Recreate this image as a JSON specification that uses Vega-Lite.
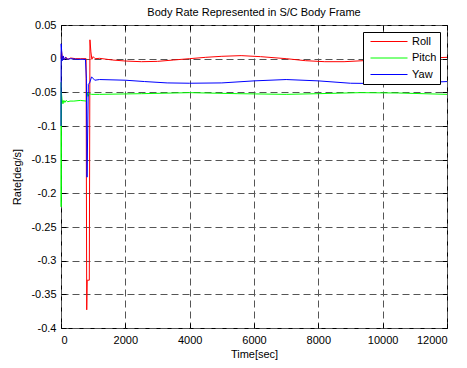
{
  "$schema": "https://vega.github.io/schema/vega-lite/v6.json",
  "width": 386,
  "height": 303,
  "autosize": {"type": "none"},
  "padding": {"left": 61, "top": 25, "right": 20, "bottom": 40},
  "background": "white",
  "title": {"text": "Body Rate Represented in S/C Body Frame", "fontSize": 11, "font": "Liberation Sans", "fontWeight": "normal", "color": "#000", "offset": 1},
  "config": {"view": {"stroke": "#000", "strokeWidth": 1}, "font": "Liberation Sans"},
  "data": {"values": [
    {"t": 0, "v": 0, "s": "Roll"}, {"t": 15, "v": 0.012, "s": "Roll"}, {"t": 40, "v": 0.001, "s": "Roll"}, {"t": 70, "v": 0.004, "s": "Roll"}, {"t": 100, "v": -0.002, "s": "Roll"}, {"t": 150, "v": 0.002, "s": "Roll"}, {"t": 220, "v": -0.001, "s": "Roll"}, {"t": 300, "v": 0.001, "s": "Roll"}, {"t": 450, "v": 0, "s": "Roll"}, {"t": 600, "v": 0, "s": "Roll"}, {"t": 780, "v": 0, "s": "Roll"}, {"t": 800, "v": -0.373, "s": "Roll"}, {"t": 815, "v": -0.329, "s": "Roll"}, {"t": 880, "v": -0.329, "s": "Roll"}, {"t": 900, "v": 0.028, "s": "Roll"}, {"t": 930, "v": 0.01, "s": "Roll"}, {"t": 960, "v": -0.001, "s": "Roll"}, {"t": 1000, "v": 0.003, "s": "Roll"}, {"t": 1060, "v": 0.0, "s": "Roll"}, {"t": 1200, "v": 0.0005, "s": "Roll"}, {"t": 1600, "v": -0.002, "s": "Roll"}, {"t": 2000, "v": -0.0035, "s": "Roll"}, {"t": 2500, "v": -0.0045, "s": "Roll"}, {"t": 3000, "v": -0.004, "s": "Roll"}, {"t": 3500, "v": -0.002, "s": "Roll"}, {"t": 4000, "v": 0.0, "s": "Roll"}, {"t": 4500, "v": 0.002, "s": "Roll"}, {"t": 5000, "v": 0.0035, "s": "Roll"}, {"t": 5600, "v": 0.0045, "s": "Roll"}, {"t": 6200, "v": 0.003, "s": "Roll"}, {"t": 7000, "v": 0.0, "s": "Roll"}, {"t": 7600, "v": -0.003, "s": "Roll"}, {"t": 8200, "v": -0.0045, "s": "Roll"}, {"t": 8800, "v": -0.0045, "s": "Roll"}, {"t": 9400, "v": -0.003, "s": "Roll"}, {"t": 10000, "v": -0.002, "s": "Roll"}, {"t": 11000, "v": 0.0, "s": "Roll"}, {"t": 12000, "v": 0.002, "s": "Roll"},
    {"t": 0, "v": -0.035, "s": "Pitch"}, {"t": 5, "v": -0.22, "s": "Pitch"}, {"t": 12, "v": -0.05, "s": "Pitch"}, {"t": 30, "v": -0.06, "s": "Pitch"}, {"t": 60, "v": -0.067, "s": "Pitch"}, {"t": 90, "v": -0.062, "s": "Pitch"}, {"t": 120, "v": -0.065, "s": "Pitch"}, {"t": 160, "v": -0.062, "s": "Pitch"}, {"t": 210, "v": -0.064, "s": "Pitch"}, {"t": 280, "v": -0.063, "s": "Pitch"}, {"t": 400, "v": -0.063, "s": "Pitch"}, {"t": 600, "v": -0.062, "s": "Pitch"}, {"t": 790, "v": -0.063, "s": "Pitch"}, {"t": 810, "v": -0.05, "s": "Pitch"}, {"t": 840, "v": -0.056, "s": "Pitch"}, {"t": 880, "v": -0.052, "s": "Pitch"}, {"t": 950, "v": -0.053, "s": "Pitch"}, {"t": 1200, "v": -0.053, "s": "Pitch"}, {"t": 2500, "v": -0.052, "s": "Pitch"}, {"t": 4000, "v": -0.0505, "s": "Pitch"}, {"t": 5500, "v": -0.052, "s": "Pitch"}, {"t": 7000, "v": -0.053, "s": "Pitch"}, {"t": 8000, "v": -0.052, "s": "Pitch"}, {"t": 9300, "v": -0.0505, "s": "Pitch"}, {"t": 10500, "v": -0.051, "s": "Pitch"}, {"t": 12000, "v": -0.053, "s": "Pitch"},
    {"t": 0, "v": -0.1, "s": "Yaw"}, {"t": 5, "v": 0.022, "s": "Yaw"}, {"t": 20, "v": 0.012, "s": "Yaw"}, {"t": 40, "v": -0.003, "s": "Yaw"}, {"t": 70, "v": 0.004, "s": "Yaw"}, {"t": 100, "v": -0.002, "s": "Yaw"}, {"t": 140, "v": 0.002, "s": "Yaw"}, {"t": 200, "v": -0.001, "s": "Yaw"}, {"t": 300, "v": 0.0, "s": "Yaw"}, {"t": 500, "v": -0.001, "s": "Yaw"}, {"t": 760, "v": -0.001, "s": "Yaw"}, {"t": 790, "v": -0.03, "s": "Yaw"}, {"t": 810, "v": -0.176, "s": "Yaw"}, {"t": 850, "v": -0.038, "s": "Yaw"}, {"t": 890, "v": -0.036, "s": "Yaw"}, {"t": 950, "v": -0.027, "s": "Yaw"}, {"t": 1050, "v": -0.032, "s": "Yaw"}, {"t": 1200, "v": -0.031, "s": "Yaw"}, {"t": 2000, "v": -0.032, "s": "Yaw"}, {"t": 2600, "v": -0.034, "s": "Yaw"}, {"t": 3300, "v": -0.036, "s": "Yaw"}, {"t": 4000, "v": -0.0365, "s": "Yaw"}, {"t": 5000, "v": -0.036, "s": "Yaw"}, {"t": 6000, "v": -0.033, "s": "Yaw"}, {"t": 7000, "v": -0.031, "s": "Yaw"}, {"t": 8000, "v": -0.033, "s": "Yaw"}, {"t": 9000, "v": -0.0365, "s": "Yaw"}, {"t": 10000, "v": -0.037, "s": "Yaw"}, {"t": 11000, "v": -0.036, "s": "Yaw"}, {"t": 12000, "v": -0.034, "s": "Yaw"}
  ]},
  "layer": [
    {
      "mark": {"type": "line", "strokeWidth": 1},
      "encoding": {
        "x": {"field": "t", "type": "quantitative", "scale": {"domain": [0, 12000], "nice": false, "zero": false},
          "axis": {"orient": "bottom", "title": "Time[sec]", "values": [0, 2000, 4000, 6000, 8000, 10000, 12000], "format": "d", "domain": false, "grid": true, "gridColor": "#555", "gridDash": [7, 4], "tickSize": -5, "tickColor": "#000", "labelPadding": 11, "labelFontSize": 11, "labelColor": "#000", "labelFont": "Liberation Sans", "titleFontSize": 11, "titleFontWeight": "normal", "titleColor": "#000", "titleFont": "Liberation Sans", "titlePadding": 3}},
        "y": {"field": "v", "type": "quantitative", "scale": {"domain": [-0.4, 0.05], "nice": false, "zero": false},
          "axis": {"orient": "left", "title": "Rate[deg/s]", "values": [0.05, 0, -0.05, -0.1, -0.15, -0.2, -0.25, -0.3, -0.35, -0.4], "labelExpr": "'' + datum.value", "domain": false, "grid": true, "gridColor": "#555", "gridDash": [7, 4], "tickSize": -5, "tickColor": "#000", "labelPadding": 10, "labelFontSize": 11, "labelColor": "#000", "labelFont": "Liberation Sans", "titleFontSize": 11, "titleFontWeight": "normal", "titleColor": "#000", "titleFont": "Liberation Sans", "titlePadding": 8}},
        "color": {"field": "s", "type": "nominal", "scale": {"domain": ["Roll", "Pitch", "Yaw"], "range": ["#ff0000", "#00ff00", "#0000ff"]},
          "legend": {"orient": "none", "legendX": 302, "legendY": 7, "title": null, "symbolType": "stroke", "symbolSize": 1369, "symbolStrokeWidth": 1, "clipHeight": 13, "rowPadding": 3.5, "padding": 3, "symbolOffset": 4, "labelOffset": 4, "labelFontSize": 11, "labelColor": "#000", "labelFont": "Liberation Sans", "strokeColor": "#000", "fillColor": "#fff"}}
      }
    },
    {
      "mark": {"type": "point", "opacity": 0},
      "encoding": {
        "x": {"field": "t", "type": "quantitative", "scale": {"domain": [0, 12000], "nice": false, "zero": false},
          "axis": {"orient": "top", "title": null, "values": [0, 2000, 4000, 6000, 8000, 10000, 12000], "labels": false, "domain": false, "grid": false, "tickSize": -5, "tickColor": "#000"}},
        "y": {"field": "v", "type": "quantitative", "scale": {"domain": [-0.4, 0.05], "nice": false, "zero": false},
          "axis": {"orient": "right", "title": null, "values": [0.05, 0, -0.05, -0.1, -0.15, -0.2, -0.25, -0.3, -0.35, -0.4], "labels": false, "domain": false, "grid": false, "tickSize": -5, "tickColor": "#000"}}
      }
    }
  ]
}
